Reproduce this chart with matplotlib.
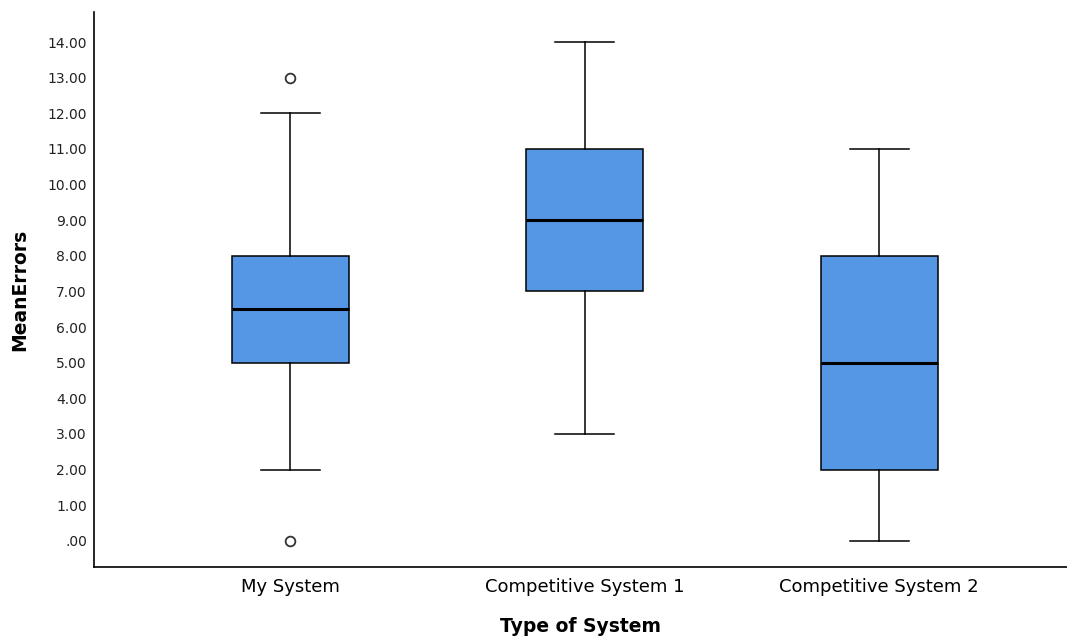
import matplotlib.pyplot as plt

# Box summary per system
systems = ["My System", "Competitive System 1", "Competitive System 2"]
whisker_low = [2.0, 3.0, 0.0]
q1 = [5.0, 7.0, 2.0]
medians = [6.5, 9.0, 5.0]
q3 = [8.0, 11.0, 8.0]
whisker_high = [12.0, 14.0, 11.0]
outliers = [[13.0, 0.0], [], []]

yticks = list(range(0, 15))
ytick_labels = [".00"] + ["%d.00" % v for v in yticks[1:]]

stats = []
for i, name in enumerate(systems):
    stats.append({
        "label": name,
        "whislo": whisker_low[i],
        "q1": q1[i],
        "med": medians[i],
        "q3": q3[i],
        "whishi": whisker_high[i],
        "fliers": outliers[i],
    })

fig = plt.figure(figsize=(10.67, 6.39), dpi=100)
ax = fig.add_axes([0.088, 0.113, 0.912, 0.868])

ax.bxp(stats, positions=range(len(systems)), widths=0.397, patch_artist=True,
       boxprops=dict(facecolor="#5597e5", edgecolor="black", linewidth=1.1),
       medianprops=dict(color="black", linewidth=2.2),
       whiskerprops=dict(color="black", linewidth=1.1),
       capprops=dict(color="black", linewidth=1.1),
       capwidths=0.2,
       flierprops=dict(marker="o", markersize=7, markerfacecolor="white",
                       markeredgecolor="#333333", markeredgewidth=1.3))

ax.set_xlim(-0.666, 2.638)
ax.set_ylim(-0.73, 14.84)
ax.set_yticks(yticks)
ax.set_yticklabels(ytick_labels, fontsize=10, color="#222222")
ax.set_xticks(range(len(systems)))
ax.set_xticklabels(systems, fontsize=13)
ax.tick_params(axis="both", length=0)
ax.tick_params(axis="y", pad=5)
ax.tick_params(axis="x", pad=8)

ax.spines["top"].set_visible(False)
ax.spines["right"].set_visible(False)
ax.spines["left"].set_linewidth(1.2)
ax.spines["bottom"].set_linewidth(1.2)

ax.set_xlabel("Type of System", fontsize=13.5, fontweight="bold", labelpad=15)
ax.set_ylabel("MeanErrors", fontsize=13.5, fontweight="bold", labelpad=13)

fig.savefig("out.png", dpi=100)
